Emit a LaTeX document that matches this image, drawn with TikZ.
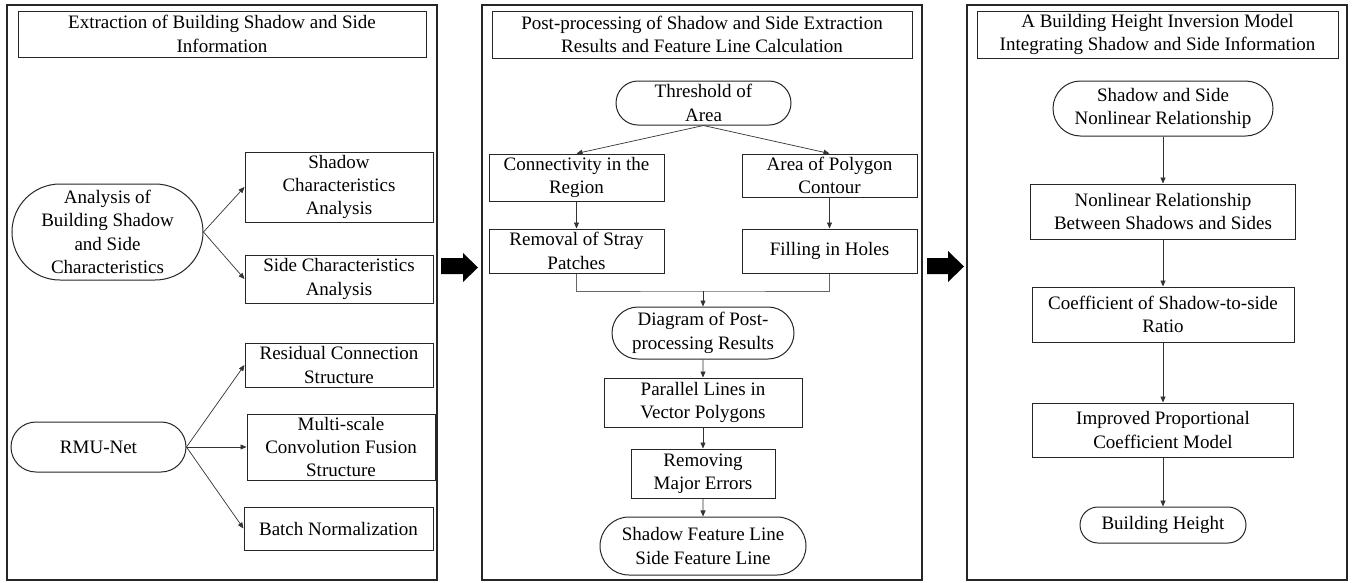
\documentclass[tikz,border=0pt]{standalone}
\usepackage{fontspec}
\setmainfont{Liberation Serif}
\usetikzlibrary{shapes.misc,arrows.meta}

\tikzset{
  panel/.style={draw=black!85, line width=1.5pt, rectangle, inner sep=0pt},
  stepbox/.style={draw=black!85, line width=1pt, rectangle, inner sep=0pt, align=center,
    font=\fontsize{19}{23.3}\selectfont},
  roundbox/.style={draw=black!85, line width=1pt, rounded rectangle, inner sep=0pt, align=center,
    font=\fontsize{19}{23.3}\selectfont},
  link/.style={draw=black!80, line width=0.7pt, -{Triangle[length=6pt,width=5pt]}},
  joinline/.style={draw=black!60, line width=0.7pt},
  bigarrow/.style={fill=black},
}

\begin{document}
\begin{tikzpicture}[x=1pt, y=-1pt]
\useasboundingbox (0,0) rectangle (1361,582);

% ---------- panel 1: extraction ----------
\node[panel, minimum width=430, minimum height=575] (P1) at (222,292.5) {};
\node[stepbox, minimum width=408, minimum height=46] (t1) at (222,34)
  {Extraction of Building Shadow and Side\\Information};
\node[roundbox, minimum width=191, minimum height=96] (ana) at (107.5,232)
  {Analysis of\\Building Shadow\\and Side\\Characteristics};
\node[stepbox, minimum width=188, minimum height=70] (shc) at (339,187)
  {Shadow\\Characteristics\\Analysis};
\node[stepbox, minimum width=188, minimum height=48] (sdc) at (339,279)
  {Side Characteristics\\Analysis};
\node[roundbox, minimum width=175, minimum height=50] (rmu) at (98.5,447) {RMU-Net};
\node[stepbox, minimum width=188, minimum height=44] (res) at (339,365)
  {Residual Connection\\Structure};
\node[stepbox, minimum width=188, minimum height=66] (msc) at (341,447)
  {Multi-scale\\Convolution Fusion\\Structure};
\node[stepbox, minimum width=189, minimum height=43] (bn) at (338.5,528.5)
  {Batch Normalization};

\draw[link] (ana.east) -- (shc.west);
\draw[link] (ana.east) -- (sdc.west);
\draw[link] (rmu.east) -- (res.west);
\draw[link] (rmu.east) -- (msc.west);
\draw[link] (rmu.east) -- (bn.west);

% ---------- panel 2: post-processing ----------
\node[panel, minimum width=440, minimum height=575] (P2) at (702,292.5) {};
\node[stepbox, minimum width=420, minimum height=47] (t2) at (702,34.5)
  {Post-processing of Shadow and Side Extraction\\Results and Feature Line Calculation};
\node[roundbox, minimum width=175, minimum height=44] (thr) at (703.5,103)
  {Threshold of\\Area};
\node[stepbox, minimum width=175, minimum height=47] (con) at (576.5,177.5)
  {Connectivity in the\\Region};
\node[stepbox, minimum width=175, minimum height=43] (apc) at (829.5,175.5)
  {Area of Polygon\\Contour};
\node[stepbox, minimum width=175, minimum height=44] (rsp) at (576.5,251)
  {Removal of Stray\\Patches};
\node[stepbox, minimum width=175, minimum height=44] (fih) at (829.5,251)
  {Filling in Holes};
\coordinate (jn) at (703,291);
\node[roundbox, minimum width=182, minimum height=52] (dpr) at (703,333)
  {Diagram of Post-\\processing Results};
\node[stepbox, minimum width=198, minimum height=49] (plv) at (703,402.5)
  {Parallel Lines in\\Vector Polygons};
\node[stepbox, minimum width=144, minimum height=49] (rme) at (703,473.5)
  {Removing\\Major Errors};
\node[roundbox, minimum width=206, minimum height=58] (sfl) at (703,546)
  {Shadow Feature Line\\Side Feature Line};

\draw[link] (thr.south) -- (con.north);
\draw[link] (thr.south) -- (apc.north);
\draw[link] (con) -- (rsp);
\draw[link] (apc) -- (fih);
\draw[joinline] (rsp.south) |- (jn) -| (fih.south);
\draw[link] (jn) -- (dpr.north);
\draw[link] (dpr) -- (plv);
\draw[link] (plv) -- (rme);
\draw[link] (rme) -- (sfl);

% ---------- panel 3: height inversion ----------
\node[panel, minimum width=380, minimum height=575] (P3) at (1157,292.5) {};
\node[stepbox, minimum width=361, minimum height=47] (t3) at (1157.5,34.5)
  {A Building Height Inversion Model\\Integrating Shadow and Side Information};
\node[roundbox, minimum width=220, minimum height=55] (ssn) at (1163,108.5)
  {Shadow and Side\\Nonlinear Relationship};
\node[stepbox, minimum width=265, minimum height=55] (nlr) at (1163,211.5)
  {Nonlinear Relationship\\Between Shadows and Sides};
\node[stepbox, minimum width=262, minimum height=55] (cof) at (1163,314.5)
  {Coefficient of Shadow-to-side\\Ratio};
\node[stepbox, minimum width=261, minimum height=54] (ipc) at (1163,430)
  {Improved Proportional\\Coefficient Model};
\node[roundbox, minimum width=166, minimum height=36] (bh) at (1163,525)
  {Building Height};

\draw[link] (ssn) -- (nlr);
\draw[link] (nlr) -- (cof);
\draw[link] (cof) -- (ipc);
\draw[link] (ipc) -- (bh);

% ---------- block arrows between panels ----------
\fill[bigarrow] (441,258) -- (463,258) -- (463,253) -- (478,267.5) -- (463,282)
  -- (463,274) -- (441,274) -- cycle;
\fill[bigarrow] (927,258) -- (948,258) -- (948,251) -- (964,266.5) -- (948,282)
  -- (948,274) -- (927,274) -- cycle;
\end{tikzpicture}
\end{document}
